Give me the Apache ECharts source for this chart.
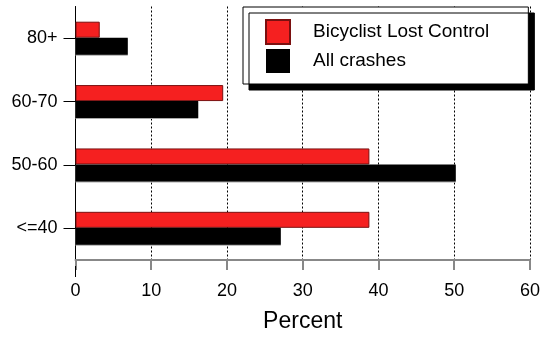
<!DOCTYPE html>
<html>
<head>
<meta charset="utf-8">
<script src="https://cdn.jsdelivr.net/npm/echarts@6/dist/echarts.min.js"></script>
<style>
html,body{margin:0;padding:0;background:#fff;}
#c{width:543px;height:338px;}
</style>
</head>
<body>
<div id="c"></div>
<script>
const categories = ['<=40', '50-60', '60-70', '80+'];
const lostControl = [38.8, 38.8, 19.5, 3.2];
const allCrashes = [27.1, 50.2, 16.2, 6.9];
const xTicks = [0, 10, 20, 30, 40, 50, 60];
const seriesNames = ['Bicyclist Lost Control', 'All crashes'];

const FONT = 'Liberation Sans, Arial, sans-serif';
const chart = echarts.init(document.getElementById('c'), null, {renderer: 'canvas'});
chart.setOption({
  animation: false,
  backgroundColor: '#fff',
  textStyle: {fontFamily: FONT},
  grid: {left: 75.5, right: 11, top: 6.5, bottom: 71, containLabel: false},
  legend: {
    data: seriesNames,
    orient: 'vertical',
    left: 243, top: 7,
    icon: 'rect',
    itemWidth: 24, itemHeight: 24, itemGap: 4,
    padding: [12, 39, 11, 22],
    backgroundColor: '#fff',
    borderColor: '#000', borderWidth: 1,
    shadowColor: '#000', shadowBlur: 0, shadowOffsetX: 6, shadowOffsetY: 6,
    selectedMode: false,
    textStyle: {fontFamily: FONT, fontSize: 19, color: '#000', padding: [0, 0, 0, 18]}
  },
  xAxis: {
    type: 'value', min: xTicks[0], max: xTicks[xTicks.length - 1], interval: 10,
    name: 'Percent', nameLocation: 'middle', nameGap: 50,
    nameTextStyle: {fontFamily: FONT, fontSize: 23, color: '#000'},
    axisLine: {show: true, lineStyle: {color: '#888', width: 2}},
    axisTick: {show: true, length: 10, lineStyle: {color: '#888', width: 2}},
    axisLabel: {fontFamily: FONT, fontSize: 18, color: '#000', margin: 22},
    splitLine: {show: true, lineStyle: {color: '#000', type: [2, 2], width: 1}}
  },
  yAxis: {
    type: 'category', data: categories,
    axisLine: {show: true, lineStyle: {color: '#000', width: 1}},
    axisTick: {show: true, alignWithLabel: true, inside: false, length: 12, lineStyle: {color: '#000'}},
    axisLabel: {fontFamily: FONT, fontSize: 18, color: '#000', margin: 18},
    splitLine: {show: false}
  },
  graphic: [{
    type: 'line', shape: {x1: 75.5, y1: 266, x2: 75.5, y2: 277},
    style: {stroke: '#000', lineWidth: 1}, z: 100
  }],
  series: [
    {
      name: seriesNames[0], type: 'bar', data: lostControl,
      barWidth: 16, barGap: '0%',
      itemStyle: {color: '#f52020', borderColor: '#7a1010', borderWidth: 1}
    },
    {
      name: seriesNames[1], type: 'bar', data: allCrashes,
      barWidth: 17, barGap: '0%',
      itemStyle: {color: '#000', shadowColor: '#aaa', shadowBlur: 0, shadowOffsetY: 1}
    }
  ]
});
</script>
</body>
</html>
